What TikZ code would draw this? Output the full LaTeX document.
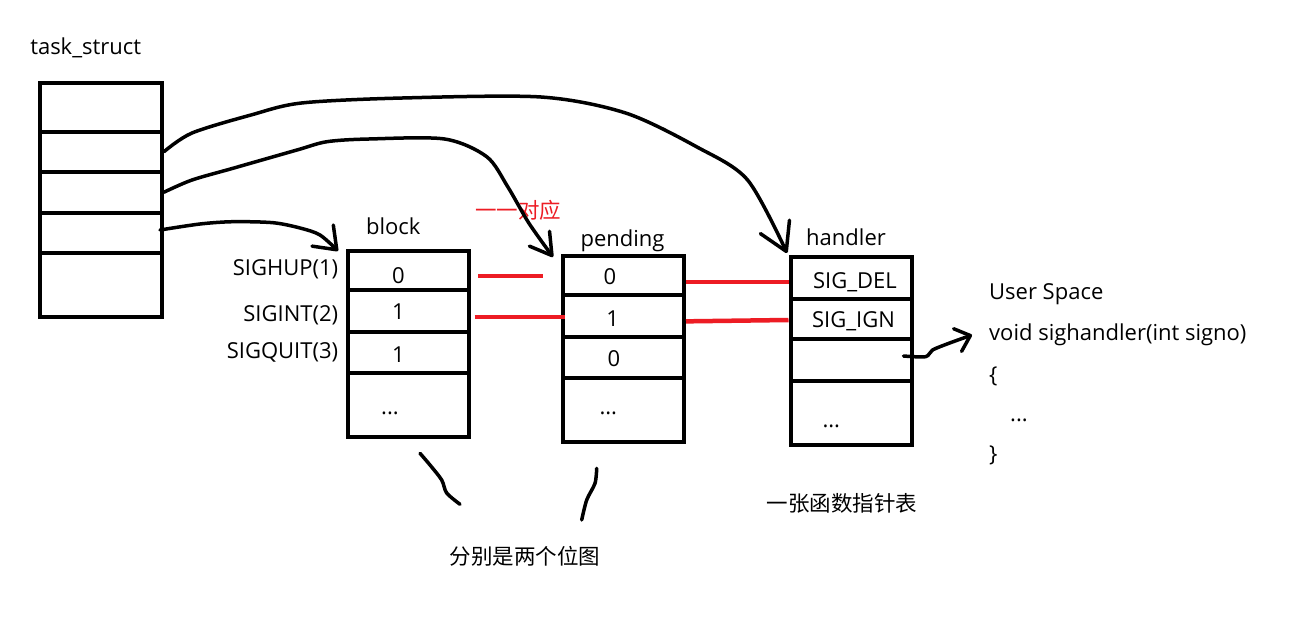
\documentclass[tikz,border=0pt]{standalone}
\usepackage{fontspec}
\setmainfont{Open Sans}
\newfontfamily\cjk{Noto Sans CJK SC}
\usetikzlibrary{arrows.meta,calc}
\definecolor{paintred}{RGB}{237,28,36}
\begin{document}
\begin{tikzpicture}[x=1pt,y=-1pt,
  cell/.style={draw, line width=4pt, inner sep=0pt, minimum width=121pt},
  txt/.style={inner sep=0pt, font=\fontsize{22}{26}\selectfont},
  cjktxt/.style={inner sep=0pt, font=\cjk\fontsize{21.5}{26}\selectfont},
  hand/.style={line width=3.5pt, line cap=round, line join=round},
  redline/.style={draw=paintred, line width=4.5pt},
]
\useasboundingbox[fill=white] (0,0) rectangle (1299,639);

% task_struct
\node[txt] (tsl) at (85.7,47.5) {task\_struct};
\node[cell, minimum width=122pt, minimum height=48.7pt] (t1) at (101,107.35) {};
\node[cell, minimum width=122pt, minimum height=40pt] (t2) at (101,151.7) {};
\node[cell, minimum width=122pt, minimum height=41pt] (t3) at (101,192.2) {};
\node[cell, minimum width=122pt, minimum height=40.6pt] (t4) at (101,233) {};
\node[cell, minimum width=122pt, minimum height=63.4pt] (t5) at (101,285) {};

% block
\node[txt] (bl) at (393.3,226.7) {block};
\node[cell, minimum height=39.3pt] (b1) at (408.5,270.35) {};
\node[cell, minimum height=41.7pt] (b2) at (408.5,310.85) {};
\node[cell, minimum height=41pt] (b3) at (408.5,352.2) {};
\node[cell, minimum height=64pt] (b4) at (408.5,404.7) {};
\node[txt] (bt1) at (398.3,276) {0};
\node[txt] (bt2) at (398.3,311.7) {1};
\node[txt] (bt3) at (398.3,355) {1};
\node[txt] (bt4) at (390,413.3) {...};
\node[txt, anchor=east] (s1) at (338.3,269) {SIGHUP(1)};
\node[txt, anchor=east] (s2) at (338.3,315) {SIGINT(2)};
\node[txt, anchor=east] (s3) at (338.3,352) {SIGQUIT(3)};

% pending
\node[txt] (pl) at (622.5,241.2) {pending};
\node[cell, minimum height=39pt] (p1) at (623.5,275.5) {};
\node[cell, minimum height=41.7pt] (p2) at (623.5,315.85) {};
\node[cell, minimum height=41pt] (p3) at (623.5,357.2) {};
\node[cell, minimum height=64pt] (p4) at (623.5,409.7) {};
\node[txt] (pt1) at (610,276.7) {0};
\node[txt] (pt2) at (612.7,318.3) {1};
\node[txt] (pt3) at (614,358.3) {0};
\node[txt] (pt4) at (608.3,413.3) {...};

% handler
\node[txt] (hl) at (846,237.2) {handler};
\node[cell, minimum height=42pt] (h1) at (851,278) {};
\node[cell, minimum height=40pt] (h2) at (851,319) {};
\node[cell, minimum height=42pt] (h3) at (851,360) {};
\node[cell, minimum height=64pt] (h4) at (851,413) {};
\node[txt] (ht1) at (855,282.3) {SIG\_DEL};
\node[txt] (ht2) at (853.5,321.7) {SIG\_IGN};
\node[txt] (ht4) at (831.3,426.7) {...};

% user space
\node[txt, anchor=west] (u1) at (989,294) {User Space};
\node[txt, anchor=west] (u2) at (989,335) {void sighandler(int signo)};
\node[txt, anchor=west] (u3) at (989,376) {\{};
\node[txt, anchor=west] (u4) at (1010,420) {...};
\node[txt, anchor=west] (u5) at (989,455) {\}};

% Chinese labels
\node[cjktxt, text=paintred] (dy) at (518,210) {一一对应};
\node[cjktxt] (fb) at (525,556) {分别是两个位图};
\node[cjktxt] (hs) at (842,503) {一张函数指针表};

% red lines
\draw[redline] ($(b1.east)+(7,5.65)$) -- ($(p1.west)+(-18,0.5)$);
\draw[redline] ($(b2.east)+(3.7,6.2)$) -- ($(p2.west)+(4,1.2)$);
\draw[redline] ($(p1.east)+(0,6.5)$) -- ($(h1.west)+(0,4)$);
\draw[redline] ($(p2.east)+(0,5.5)$) -- ($(h2.west)+(0,1)$);

% curves
\coordinate (e1) at (787,253);
\coordinate (e2) at (553,257);
\coordinate (e3) at (338,251);
\coordinate (e4) at (972,335);
\draw[hand, -{Straight Barb[length=27pt,width=32pt,line width=3.5pt,round]}]
  plot[smooth, tension=0.5] coordinates {(t2.east) (192,133) (251,115) (301.5,103) (402.5,98) (541,97) (625.6,113) (697,147) (747.6,180) (e1)};
\draw[hand, -{Straight Barb[length=21pt,width=25pt,line width=3.5pt,round]}]
  plot[smooth, tension=0.5] coordinates {(t3.east) (192,180) (234,168) (297,150) (327,141.7) (369,139) (444.6,139) (486.7,156.7) (507.7,186.7) (528.8,223) (e2)};
\draw[hand, -{Straight Barb[length=20pt,width=30pt,line width=3.5pt,round]}]
  plot[smooth, tension=0.5] coordinates {($(t4.east)+(-4,-3)$) (200,224) (233,221.7) (273,222.7) (300,228) (320,235) (e3)};
\draw[hand, -{Straight Barb[length=13.5pt,width=24pt,line width=3.5pt,round]}]
  plot[smooth, tension=0.5] coordinates {($(h3.east)+(-10,-4)$) (925.6,356.7) (932.5,350) (949.7,343) (e4)};

% bottom strokes
\draw[hand] plot[smooth, tension=0.5] coordinates {(420,453.3) (430,465) (441.7,480) (446.7,493) (460,504.3)};
\draw[hand] plot[smooth, tension=0.5] coordinates {(596.7,468.3) (595,483.3) (586.7,500) (581.7,520)};
\end{tikzpicture}
\end{document}
